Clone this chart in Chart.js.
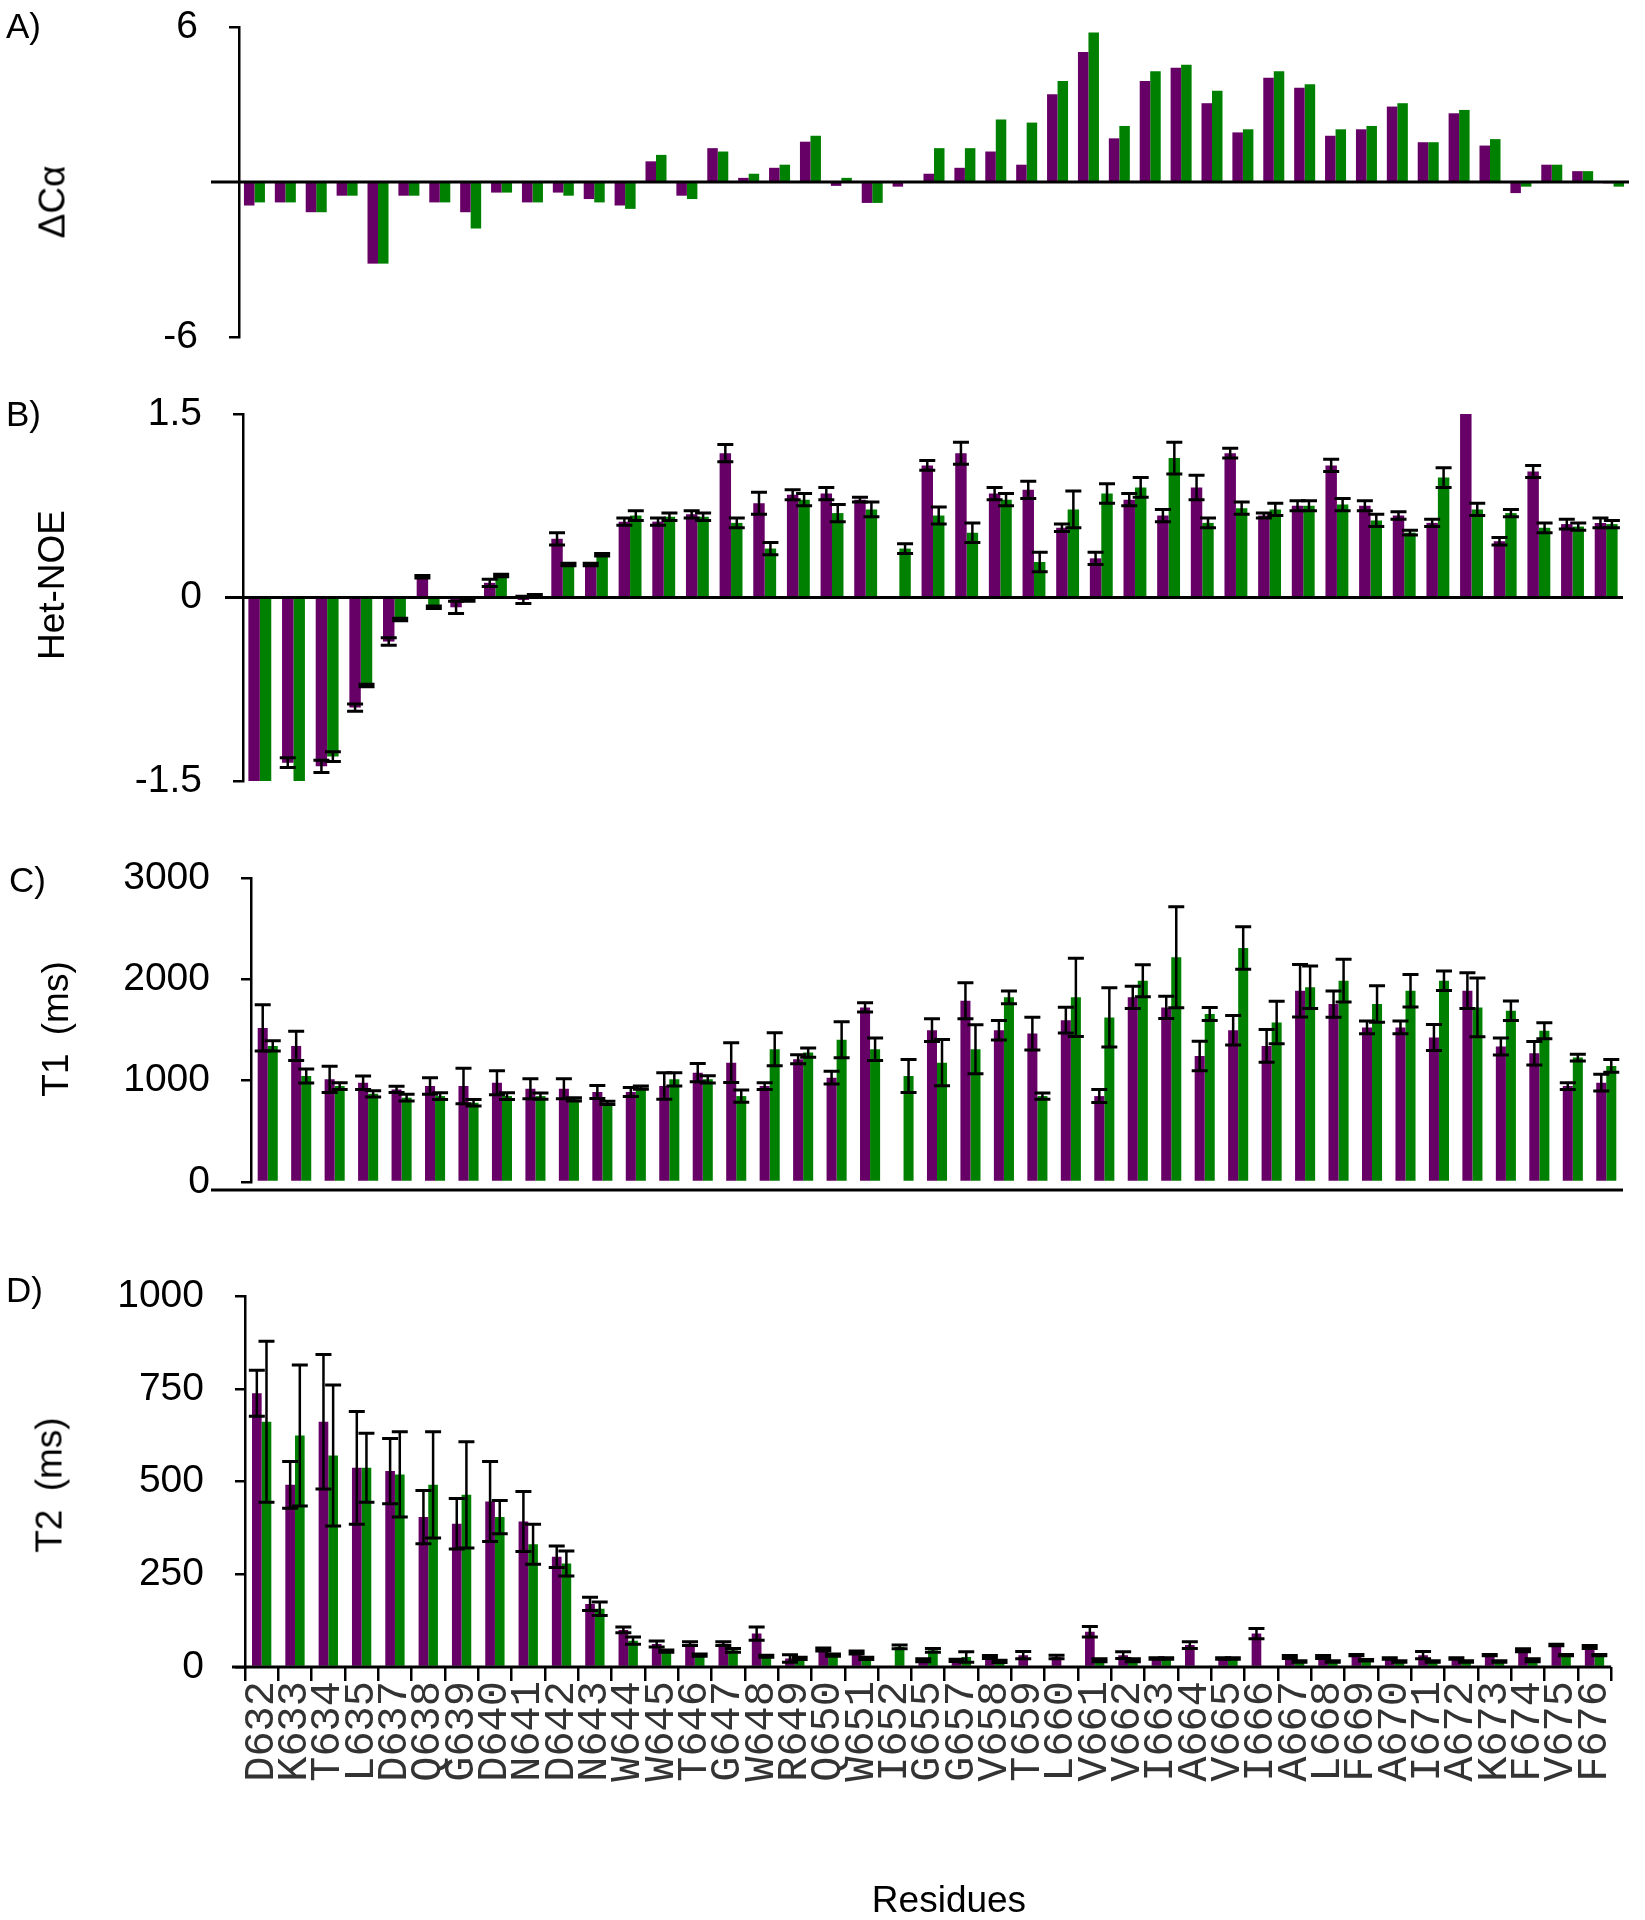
<!DOCTYPE html>
<html>
<head>
<meta charset="utf-8">
<script src="https://cdn.jsdelivr.net/npm/chart.js@4.4.0/dist/chart.umd.min.js"></script>
<style>
  html, body { margin: 0; padding: 0; background: #fff; }
  #page { position: relative; width: 1645px; height: 1920px; overflow: hidden; font-family: 'Liberation Sans', Arial, sans-serif; color: #000; }
  .band { position: absolute; left: 0; width: 1645px; }
  .panel-letter { position: absolute; font-size: 35px; line-height: 1; }
  .ytitle { position: absolute; font-size: 37px; line-height: 1; white-space: nowrap; transform: translate(-50%, -50%) rotate(-90deg); }
  .xtitle { position: absolute; font-size: 37px; line-height: 1; white-space: nowrap; transform: translate(-50%, -50%); }
</style>
</head>
<body>
<div id="page">
  <div class="band" style="top:-33px;height:430px"><canvas id="chartA" width="1645" height="430"></canvas></div>
  <div class="band" style="top:354px;height:487px"><canvas id="chartB" width="1645" height="487"></canvas></div>
  <div class="band" style="top:818px;height:424px"><canvas id="chartC" width="1645" height="424"></canvas></div>
  <div class="band" style="top:1236px;height:684px"><canvas id="chartD" width="1645" height="684"></canvas></div>

  <div class="panel-letter" style="left:6px;top:8px">A)</div>
  <div class="panel-letter" style="left:6px;top:396px">B)</div>
  <div class="panel-letter" style="left:9px;top:862px">C)</div>
  <div class="panel-letter" style="left:6px;top:1272px">D)</div>

  <div class="ytitle" style="left:52px;top:202px">ΔCα</div>
  <div class="ytitle" style="left:51px;top:585px">Het-NOE</div>
  <div class="ytitle" style="left:55px;top:1029px;word-spacing:8px">T1 (ms)</div>
  <div class="ytitle" style="left:49px;top:1485px;word-spacing:8px">T2 (ms)</div>
  <div class="xtitle" style="left:949px;top:1899px">Residues</div>
</div>

<script>
// residues 632-676 (chemical shift panel has every residue)
const shiftResidues = ['632', '633', '634', '635', '636', '637', '638', '639', '640', '641',
    '642', '643', '644', '645', '646', '647', '648', '649', '650', '651',
    '652', '653', '654', '655', '656', '657', '658', '659', '660', '661',
    '662', '663', '664', '665', '666', '667', '668', '669', '670', '671',
    '672', '673', '674', '675', '676'];

// residues with relaxation data
const residues = ['D632', 'K633', 'T634', 'L635', 'D637', 'Q638', 'G639', 'D640', 'N641', 'D642',
    'N643', 'W644', 'W645', 'T646', 'G647', 'W648', 'R649', 'Q650', 'W651', 'I652',
    'G655', 'G657', 'V658', 'T659', 'L660', 'V661', 'V662', 'I663', 'A664', 'V665',
    'I666', 'A667', 'L668', 'F669', 'A670', 'I671', 'A672', 'K673', 'F674', 'V675', 'F676'];

// A) delta C-alpha
const dCaPurple = [-0.91, -0.79, -1.17, -0.53, -3.16, -0.53, -0.79, -1.17, -0.41, -0.79,
    -0.41, -0.66, -0.91, 0.8, -0.53, 1.31, 0.16, 0.55, 1.56, -0.15,
    -0.81, -0.18, 0.32, 0.55, 1.18, 0.67, 3.4, 5.03, 1.69, 3.91,
    4.42, 3.05, 1.92, 4.04, 3.65, 1.79, 2.04, 2.92, 1.54, 2.66,
    1.41, -0.43, 0.67, 0.42, -0.05];
const dCaGreen = [-0.79, -0.79, -1.17, -0.53, -3.16, -0.53, -0.79, -1.8, -0.41, -0.79,
    -0.53, -0.79, -1.04, 1.05, -0.66, 1.18, 0.32, 0.67, 1.79, 0.16,
    -0.81, 0, 1.31, 1.31, 2.42, 2.3, 3.91, 5.79, 2.17, 4.29,
    4.54, 3.53, 2.04, 4.29, 3.78, 2.04, 2.17, 3.05, 1.54, 2.79,
    1.66, -0.18, 0.67, 0.42, -0.18];
const dCaTicks = [-6, 6];

// B) heteronuclear NOE
const noePurple = [-1.7, -1.35, -1.38, -0.9, -0.36, 0.17, -0.08, 0.12, -0.02, 0.48,
    0.27, 0.62, 0.62, 0.68, 1.18, 0.77, 0.84, 0.85, 0.8, null,
    1.08, 1.18, 0.85, 0.88, 0.57, 0.32, 0.8, 0.67, 0.9, 1.18,
    0.67, 0.75, 1.08, 0.75, 0.67, 0.61, 1.6, 0.46, 1.03, 0.6, 0.61];
const noePurpleErr = [0, 0.04, 0.05, 0.03, 0.03, 0.01, 0.05, 0.03, 0.03, 0.05,
    0.01, 0.03, 0.03, 0.03, 0.07, 0.09, 0.04, 0.05, 0.02, null,
    0.04, 0.09, 0.05, 0.07, 0.03, 0.05, 0.05, 0.05, 0.1, 0.04,
    0.02, 0.04, 0.05, 0.04, 0.03, 0.03, 0, 0.03, 0.05, 0.04, 0.04];
const noeGreen = [-1.7, -1.7, -1.3, -0.72, -0.18, -0.08, -0.02, 0.18, 0.02, 0.27,
    0.35, 0.67, 0.66, 0.66, 0.61, 0.4, 0.8, 0.69, 0.72, 0.4,
    0.67, 0.53, 0.8, 0.29, 0.72, 0.85, 0.9, 1.14, 0.61, 0.73,
    0.72, 0.75, 0.76, 0.63, 0.53, 0.98, 0.72, 0.69, 0.57, 0.58, 0.6];
const noeGreenErr = [0, 0, 0.04, 0.01, 0.01, 0.01, 0.01, 0.01, 0.005, 0.01,
    0.01, 0.04, 0.03, 0.03, 0.04, 0.05, 0.05, 0.07, 0.06, 0.04,
    0.07, 0.08, 0.05, 0.08, 0.15, 0.08, 0.08, 0.13, 0.04, 0.05,
    0.05, 0.04, 0.05, 0.05, 0.02, 0.08, 0.05, 0.03, 0.04, 0.03, 0.03];
const noeTicks = [-1.5, 0, 1.5];

// C) T1 (ms)
const t1Purple = [1520, 1343, 1013, 980, 914, 947, 947, 980, 921, 921,
    888, 888, 947, 1079, 1178, 947, 1211, 1030, 1723, null,
    1498, 1789, 1498, 1465, 1597, 848, 1822, 1723, 1244, 1498,
    1343, 1888, 1756, 1525, 1525, 1426, 1888, 1337, 1271, 947, 980];
const t1PurpleErr = [228, 145, 129, 66, 30, 82, 176, 119, 99, 99,
    64, 45, 130, 90, 195, 33, 45, 63, 46, null,
    112, 177, 96, 162, 127, 64, 110, 110, 145, 145,
    162, 259, 130, 63, 63, 129, 177, 83, 116, 33, 83];
const t1Green = [1343, 1046, 947, 870, 832, 848, 782, 848, 848, 815,
    782, 931, 1013, 1013, 848, 1310, 1277, 1403, 1310, 1046,
    1178, 1310, 1822, 848, 1822, 1624, 1987, 2218, 1657, 2310,
    1574, 1921, 1987, 1756, 1888, 1987, 1723, 1690, 1492, 1228, 1145];
const t1GreenErr = [50, 70, 33, 31, 33, 33, 33, 33, 31, 16,
    16, 16, 66, 36, 61, 162, 46, 178, 112, 162,
    228, 241, 63, 31, 385, 292, 158, 498, 64, 210,
    210, 210, 211, 180, 160, 96, 289, 97, 79, 33, 63];
const t1Ticks = [0, 1000, 2000, 3000];

// D) T2 (ms)
const t2Purple = [738, 491, 661, 537, 528, 404, 386, 446, 392, 297,
    170, 100, 62, 63, 63, 90, 23, 47, 39, null,
    18, 18, 27, 32, 27, 95, 32, 23, 59, 23,
    90, 27, 27, 32, 23, 32, 23, 32, 45, 59, 54];
const t2PurpleErr = [62, 63, 181, 152, 88, 72, 68, 108, 81, 29,
    18, 8, 8, 5, 5, 18, 10, 4, 4, null,
    4, 3, 4, 10, 5, 14, 9, 2, 9, 2,
    14, 4, 4, 2, 2, 10, 2, 2, 4, 2, 4];
const t2Green = [661, 624, 570, 537, 519, 491, 464, 404, 331, 279,
    157, 71, 43, 32, 45, 29, 23, 32, 23, 54,
    45, 27, 15, null, null, 18, 18, 23, null, 23,
    null, 15, 15, 18, 15, 15, 15, 15, 18, 32, 32];
const t2GreenErr = [217, 190, 190, 93, 115, 143, 143, 45, 54, 34,
    18, 10, 3, 3, 5, 3, 3, 3, 3, 5,
    5, 14, 3, null, null, 4, 4, 2, null, 2,
    null, 2, 2, 2, 2, 2, 2, 2, 4, 2, 2];
const t2Ticks = [0, 250, 500, 750, 1000];

const PURPLE = '#660066';
const GREEN = '#008000';

Chart.defaults.font.family = "'Liberation Sans', Arial, sans-serif";
Chart.defaults.color = '#000';

// error bars, drawn at the centre of each bar
const errorBarPlugin = {
    id: 'errorBars',
    afterDatasetsDraw(chart) {
        const ctx = chart.ctx;
        const area = chart.chartArea;
        const yScale = chart.scales.y;
        ctx.save();
        ctx.beginPath();
        ctx.rect(area.left, area.top - 2, area.right - area.left, area.bottom - area.top + 4);
        ctx.clip();
        ctx.strokeStyle = '#000';
        chart.data.datasets.forEach((ds, i) => {
            if (!ds.errors) return;
            const meta = chart.getDatasetMeta(i);
            meta.data.forEach((bar, j) => {
                const v = ds.data[j];
                const e = ds.errors[j];
                if (v == null || e == null || e === 0) return;
                const yTop = yScale.getPixelForValue(v + e);
                const yBot = yScale.getPixelForValue(v - e);
                const half = 8;
                ctx.lineWidth = 2.5;
                ctx.beginPath();
                ctx.moveTo(bar.x, yTop);
                ctx.lineTo(bar.x, yBot);
                ctx.stroke();
                ctx.lineWidth = 3;
                ctx.beginPath();
                ctx.moveTo(bar.x - half, yTop);
                ctx.lineTo(bar.x + half, yTop);
                ctx.moveTo(bar.x - half, yBot);
                ctx.lineTo(bar.x + half, yBot);
                ctx.stroke();
            });
        });
        ctx.restore();
    }
};

// horizontal axis line, reaching a little left of the y axis
const baseLinePlugin = {
    id: 'baseLine',
    afterDatasetsDraw(chart, args, opts) {
        if (!opts || opts.value == null) return;
        const ctx = chart.ctx;
        const area = chart.chartArea;
        const y = chart.scales.y.getPixelForValue(opts.value) + (opts.dy || 0);
        ctx.save();
        ctx.strokeStyle = '#000';
        ctx.lineWidth = 3;
        ctx.beginPath();
        ctx.moveTo(area.left - opts.extend, y);
        ctx.lineTo(area.right, y);
        ctx.stroke();
        ctx.restore();
    }
};

function makePanel(id, p) {
    const xScale = p.showLabels ? {
        display: true,
        offset: true,
        grid: { display: true, drawOnChartArea: false, drawTicks: true, tickLength: 14, color: '#000', lineWidth: 2.5, offset: true },
        border: { display: false },
        ticks: {
            autoSkip: false, minRotation: 90, maxRotation: 90, padding: 0, color: '#333',
            font: { family: "'Liberation Mono', 'Courier New', monospace", size: 42 }
        },
        afterFit: s => { s.height = p.xHeight; }
    } : { display: false, offset: true };

    return new Chart(document.getElementById(id), {
        type: 'bar',
        data: {
            labels: p.labels,
            datasets: [
                { data: p.purple, errors: p.purpleErr, backgroundColor: PURPLE, borderWidth: 0,
                  categoryPercentage: p.catPct, barPercentage: 1 },
                { data: p.green, errors: p.greenErr, backgroundColor: GREEN, borderWidth: 0,
                  categoryPercentage: p.catPct, barPercentage: 1 }
            ]
        },
        options: {
            responsive: false,
            animation: false,
            events: [],
            layout: { padding: { top: p.padTop, bottom: p.padBottom, left: 0, right: 1645 - p.right } },
            plugins: {
                legend: { display: false },
                tooltip: { enabled: false },
                baseLine: { value: p.lineAt, dy: p.lineDy, extend: p.lineExtend }
            },
            scales: {
                x: xScale,
                y: {
                    min: p.min,
                    max: p.max,
                    afterBuildTicks: s => { s.ticks = p.ticks.map(v => ({ value: v })); },
                    afterFit: s => { s.width = p.left; },
                    grid: { display: true, drawOnChartArea: false, drawTicks: true, tickLength: 10, color: '#000', lineWidth: 2.5 },
                    border: { display: true, color: '#000', width: 2.5 },
                    ticks: { padding: 31, color: '#000', font: { size: 39 }, callback: v => String(v) }
                }
            }
        },
        plugins: [errorBarPlugin, baseLinePlugin]
    });
}

// chart areas (page px): A 27-337, B 414-781, C 878-1182, D 1296-1667
makePanel('chartA', {
    labels: shiftResidues, purple: dCaPurple, green: dCaGreen,
    min: -6, max: 6, ticks: dCaTicks,
    left: 239, right: 1629, padTop: 60, padBottom: 60, catPct: 0.68,
    lineAt: 0, lineDy: 0, lineExtend: 28
});

makePanel('chartB', {
    labels: residues, purple: noePurple, purpleErr: noePurpleErr, green: noeGreen, greenErr: noeGreenErr,
    min: -1.5, max: 1.5, ticks: noeTicks,
    left: 243, right: 1623, padTop: 60, padBottom: 60, catPct: 0.68,
    lineAt: 0, lineDy: 0, lineExtend: 18
});

makePanel('chartC', {
    labels: residues, purple: t1Purple, purpleErr: t1PurpleErr, green: t1Green, greenErr: t1GreenErr,
    min: 0, max: 3000, ticks: t1Ticks,
    left: 251, right: 1623, padTop: 60, padBottom: 60, catPct: 0.6,
    lineAt: 0, lineDy: 8, lineExtend: 40
});

makePanel('chartD', {
    labels: residues, purple: t2Purple, purpleErr: t2PurpleErr, green: t2Green, greenErr: t2GreenErr,
    min: 0, max: 1000, ticks: t2Ticks,
    left: 245, right: 1638, padTop: 60, padBottom: 0, catPct: 0.58,
    showLabels: true, xHeight: 253,
    lineAt: 0, lineDy: 0, lineExtend: 13
});
</script>
</body>
</html>
